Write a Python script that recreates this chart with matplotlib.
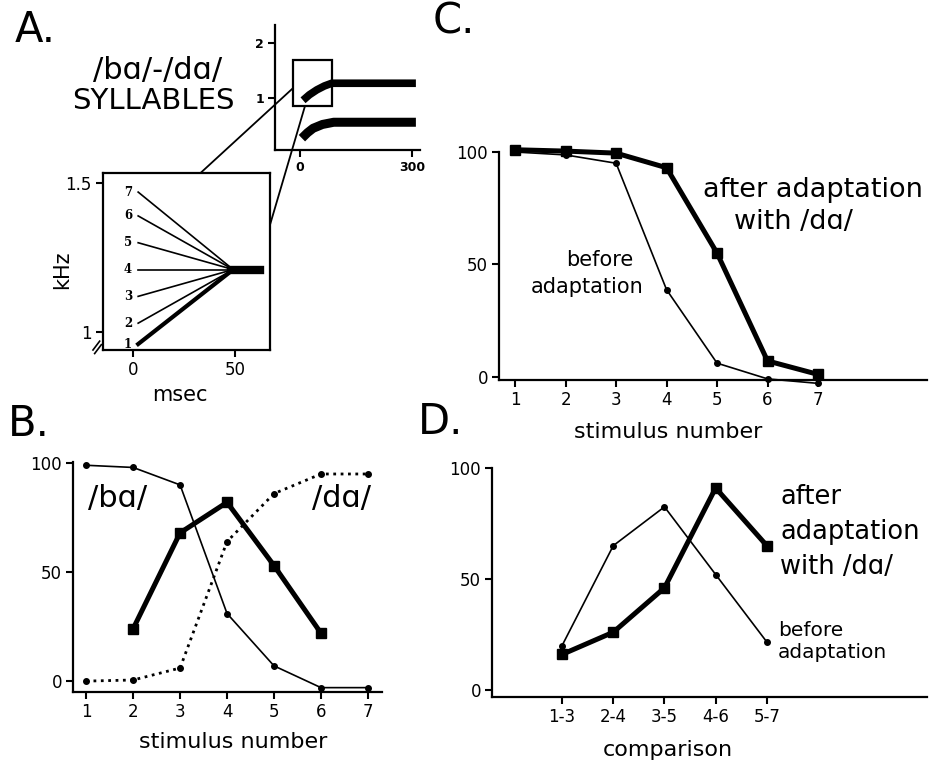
import matplotlib
matplotlib.use('Agg')
import matplotlib.pyplot as plt
from matplotlib.patches import Rectangle, ConnectionPatch

W, H = 934, 765

# panel A: formant tracks of the syllables (msec, kHz)
f2_time = [8, 25, 45, 65, 85, 310]
f2_freq = [0.96, 1.06, 1.15, 1.22, 1.27, 1.27]
f1_time = [5, 20, 35, 60, 90, 310]
f1_freq = [0.27, 0.37, 0.45, 0.52, 0.56, 0.56]

# panel A inset: F2 transitions of stimuli 1-7
stim_labels = ['1', '2', '3', '4', '5', '6', '7']
onset_khz = [0.96, 1.03, 1.12, 1.21, 1.30, 1.39, 1.47]
onset_ms = 2.5
target_ms = 49
target_khz = 1.21
steady_end_ms = 62

# panel B: identification and discrimination
stim = [1, 2, 3, 4, 5, 6, 7]
ba_pct = [99, 98, 90, 31, 7, -3, -3]
da_pct = [0, 0.5, 6, 64, 86, 95, 95]
disc_stim = [2, 3, 4, 5, 6]
disc_pct = [24, 68, 82, 53, 22]

# panel C: identification before / after adaptation
before_c = [100, 98.7, 95, 38.7, 6, -1, -3]
after_c = [101, 100.4, 99.5, 93, 55, 7, 1]

# panel D: discrimination before / after adaptation
comp_labels = ['1-3', '2-4', '3-5', '4-6', '5-7']
before_d = [20, 65, 82.5, 52, 21.6]
after_d = [16, 26, 46, 91, 65]

fig = plt.figure(figsize=(W / 100, H / 100), dpi=100)


def px_axes(x0, y0, x1, y1):
    # axes placed by pixel box of the reference
    return fig.add_axes([x0 / W, 1 - y1 / H, (x1 - x0) / W, (y1 - y0) / H])


def txt(x, y, s, **kw):
    kw.setdefault('ha', 'center')
    kw.setdefault('va', 'center')
    fig.text(x / W, 1 - y / H, s, **kw)


def style(ax, sides=('left', 'bottom'), size=12):
    for k, sp in ax.spines.items():
        sp.set_visible(k in sides)
        sp.set_linewidth(1.6)
    ax.tick_params(direction='out', length=5, width=1.5, labelsize=size, pad=3)
    ax.patch.set_alpha(0)


thin = dict(color='black', lw=1.2, marker='o', ms=4, clip_on=False)
thick = dict(color='black', lw=3.6, marker='s', ms=7.5, clip_on=False)

# ---- A: spectrogram sketch
axs = px_axes(275, 25, 420, 150)
style(axs, size=9)
axs.plot(f2_time, f2_freq, color='black', lw=5.5, solid_capstyle='butt')
axs.plot(f1_time, f1_freq, color='black', lw=6.5, solid_capstyle='butt')
axs.set_xlim(-67, 321)
axs.set_ylim(0.055, 2.33)
axs.set_xticks([0, 300])
axs.set_yticks([1, 2])
for lab in axs.get_xticklabels() + axs.get_yticklabels():
    lab.set_fontweight('bold')
axs.add_patch(Rectangle((-19, 0.85), 105, 0.84, fill=False, lw=1.6, color='black'))

# ---- A: inset of the transitions
axi = px_axes(103, 173, 270, 350)
style(axi, sides=('left', 'bottom', 'right', 'top'), size=12)
for lab, f in zip(stim_labels, onset_khz):
    lw = 3.0 if lab == '1' else 1.2
    axi.plot([onset_ms, target_ms], [f, target_khz], color='black', lw=lw)
    axi.text(-2.5, f, lab, ha='center', va='center', fontsize=8.5,
             fontweight='bold', family='DejaVu Serif')
axi.plot([target_ms - 1, steady_end_ms], [target_khz, target_khz], color='black', lw=6)
axi.set_xlim(-14.7, 67)
axi.set_ylim(0.94, 1.534)
axi.set_xticks([0, 50])
axi.set_yticks([1, 1.5])
axi.set_yticklabels(['1', '1.5'])
axi.plot([-0.06, -0.02], [0.0, 0.05], transform=axi.transAxes, color='black', lw=1.2, clip_on=False)
axi.plot([-0.05, -0.01], [-0.02, 0.03], transform=axi.transAxes, color='black', lw=1.2, clip_on=False)

for pa, pb in [((-19, 1.18), (33, 1.534)), ((13, 0.85), (67, 1.36))]:
    con = ConnectionPatch(xyA=pa, coordsA=axs.transData, xyB=pb, coordsB=axi.transData,
                          color='black', lw=1.3)
    fig.add_artist(con)

txt(15, 30, 'A.', fontsize=30, ha='left')
txt(158, 70, '/bɑ/-/dɑ/', fontsize=22)
txt(153, 101, 'SYLLABLES', fontsize=21)
txt(62, 270, 'kHz', fontsize=15, rotation=90)
txt(180, 395, 'msec', fontsize=15)

# ---- B
axb = px_axes(73, 462, 382, 692)
style(axb)
axb.plot(stim, ba_pct, **thin)
axb.plot(stim, da_pct, color='black', lw=2, ls=':', marker='o', ms=4, clip_on=False)
axb.plot(disc_stim, disc_pct, **thick)
axb.set_xlim(0.72, 7.3)
axb.set_ylim(-5, 100.5)
axb.set_xticks(stim)
axb.set_yticks([0, 50, 100])
txt(8, 424, 'B.', fontsize=30, ha='left')
txt(118, 498, '/bɑ/', fontsize=22)
txt(341, 498, '/dɑ/', fontsize=22)
txt(233, 742, 'stimulus number', fontsize=16)

# ---- C
axc = px_axes(499, 152, 927, 380)
style(axc)
axc.plot(stim, before_c, **thin)
axc.plot(stim, after_c, **thick)
axc.set_xlim(0.68, 9.16)
axc.set_ylim(-1.5, 100)
axc.set_xticks(stim)
axc.set_yticks([0, 50, 100])
txt(433, 22, 'C.', fontsize=30, ha='left')
txt(813, 190, 'after adaptation', fontsize=19.5)
txt(793, 222, 'with /dɑ/', fontsize=19.5)
txt(600, 260, 'before', fontsize=15)
txt(587, 287, 'adaptation', fontsize=15)
txt(668, 432, 'stimulus number', fontsize=16)

# ---- D
axd = px_axes(492, 468, 927, 697)
style(axd)
pos = list(range(1, len(comp_labels) + 1))
axd.plot(pos, before_d, **thin)
axd.plot(pos, after_d, **thick)
axd.set_xlim(-0.37, 8.13)
axd.set_ylim(-3.2, 100)
axd.set_xticks(pos)
axd.set_xticklabels(comp_labels)
axd.set_yticks([0, 50, 100])
txt(418, 422, 'D.', fontsize=30, ha='left')
txt(780, 497, 'after', fontsize=18.5, ha='left')
txt(780, 532, 'adaptation', fontsize=18.5, ha='left')
txt(780, 567, 'with /dɑ/', fontsize=18.5, ha='left')
txt(778, 630, 'before', fontsize=14.5, ha='left')
txt(778, 653, 'adaptation', fontsize=14.5, ha='left')
txt(668, 750, 'comparison', fontsize=16)

fig.savefig('out.png', dpi=100)
